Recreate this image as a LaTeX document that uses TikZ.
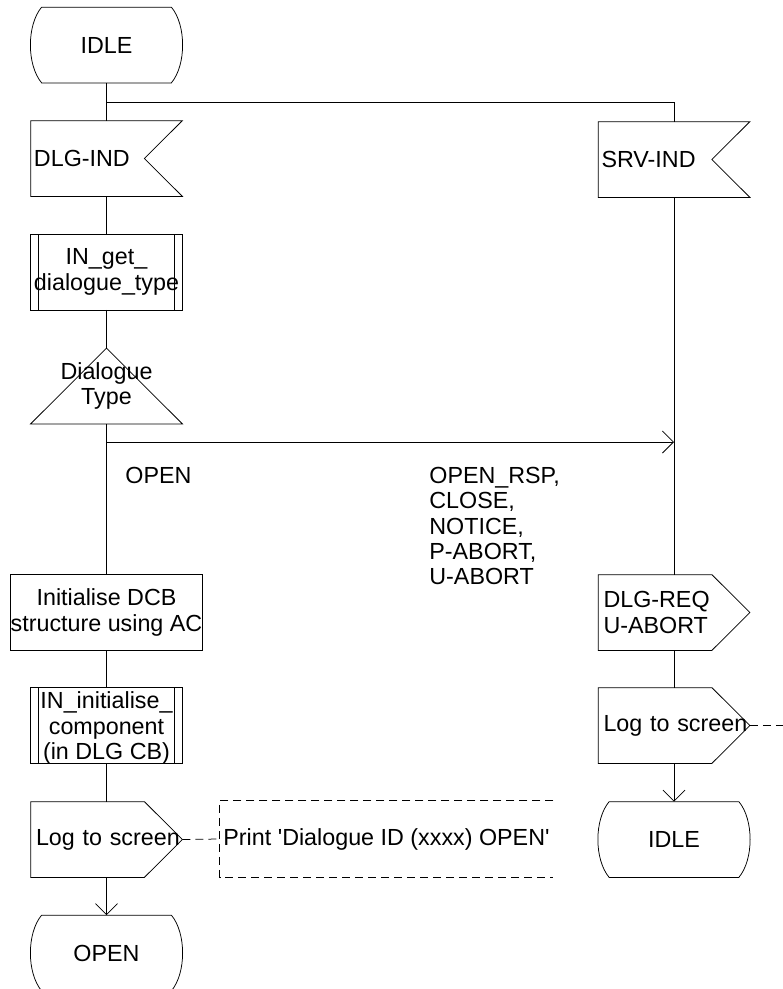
\documentclass[tikz,border=0pt]{standalone}
\usepackage{fontspec}
\setmainfont{Liberation Sans}[Ligatures=TeXOff]
\usetikzlibrary{arrows.meta}
\tikzset{
  sdl/.style={rectangle, minimum width=151pt, minimum height=75pt, inner sep=0pt,
    font=\fontsize{23.3}{25.3}\selectfont, align=center},
  sdlin/.style={sdl, text width=145pt, inner xsep=3pt, align=left},
  sdlout/.style={sdl, text width=141pt, inner xsep=5pt, align=left},
  lbl/.style={inner sep=0pt, font=\fontsize{23.3}{25.3}\selectfont, align=left},
  arr/.style={-{Straight Barb[length=11pt,width=22pt]}},
  cmtline/.style={dash pattern=on 8pt off 5pt},
}
\newcommand{\sdlstate}[1]{%
  \draw ([xshift=11pt]#1.north west) -- ([xshift=-11pt]#1.north east)
    .. controls ([xshift=4pt,yshift=-18pt]#1.north east) and ([xshift=4pt,yshift=18pt]#1.south east) .. ([xshift=-11pt]#1.south east)
    -- ([xshift=11pt]#1.south west)
    .. controls ([xshift=-4pt,yshift=18pt]#1.south west) and ([xshift=-4pt,yshift=-18pt]#1.north west) .. cycle;}
\newcommand{\sdlinput}[1]{%
  \draw (#1.north west) -- (#1.north east) -- ([xshift=-38pt]#1.east) -- (#1.south east) -- (#1.south west) -- cycle;}
\newcommand{\sdloutput}[1]{%
  \draw (#1.north west) -- ([xshift=-38pt]#1.north east) -- (#1.east) -- ([xshift=-38pt]#1.south east) -- (#1.south west) -- cycle;}
\newcommand{\sdlproc}[1]{%
  \draw (#1.north west) rectangle (#1.south east);
  \draw ([xshift=8pt]#1.north west) -- ([xshift=8pt]#1.south west);
  \draw ([xshift=-8pt]#1.north east) -- ([xshift=-8pt]#1.south east);}
\begin{document}
\begin{tikzpicture}[x=1pt,y=-1pt,line width=0.75pt]
\useasboundingbox (0,0) rectangle (783,989);
\clip (0,0) rectangle (783,989);

% left column
\node[sdl] (idle1) at (106.5,45) {IDLE};
\node[sdlin] (dlgind) at (106.5,158.5) {DLG-IND};
\node[sdl] (getdt) at (106.5,272) {IN\_get\_\\dialogue\_type};
\node[sdl] (dec) at (106.5,386) {Dialogue\\Type};
\node[sdl] (init) at (106.5,612.5) {Initialise DCB\\structure using AC};
\node[sdl] (initcomp) at (106.5,728) {IN\_initialise\_\\component\\(in DLG CB)};
\node[sdlout] (log1) at (106.5,839.5) {\mbox{Log to screen}};
\node[sdl] (open) at (106.5,953) {OPEN};
\node[sdl, minimum width=333pt, minimum height=76pt] (cmt) at (386.5,839) {Print 'Dialogue ID (xxxx) OPEN'};

% right column
\node[sdlin] (srvind) at (674,159.5) {SRV-IND};
\node[sdlout] (dlgreq) at (674,612.5) {DLG-REQ\\U-ABORT};
\node[sdlout] (log2) at (674,725.5) {\mbox{Log to screen}};
\node[sdl] (idle2) at (674,839.5) {IDLE};

% labels
\node[lbl, anchor=west] (lopen) at (125,475) {OPEN};
\node[lbl, anchor=north west] (lother) at (429,467) {OPEN\_RSP,\\CLOSE,\\NOTICE,\\P-ABORT,\\U-ABORT};

% shapes
\sdlstate{idle1}
\sdlinput{dlgind}
\sdlproc{getdt}
\draw (dec.north) -- (dec.south east) -- (dec.south west) -- cycle;
\draw (init.north west) rectangle (init.south east);
\draw ([yshift=2.5pt]initcomp.north west) rectangle ([yshift=2.5pt]initcomp.south east);
\draw ([xshift=8pt,yshift=2.5pt]initcomp.north west) -- ([xshift=8pt,yshift=2.5pt]initcomp.south west);
\draw ([xshift=-8pt,yshift=2.5pt]initcomp.north east) -- ([xshift=-8pt,yshift=2.5pt]initcomp.south east);
\sdloutput{log1}
\sdlstate{open}
\draw[cmtline] (cmt.north east) -- (cmt.north west) -- (cmt.south west) -- (cmt.south east);
\sdlinput{srvind}
\sdloutput{dlgreq}
\sdloutput{log2}
\sdlstate{idle2}

% connectors
\coordinate (b1) at (106.5,102);
\coordinate (b2) at (106.5,442);
\coordinate (j2) at (674,442);
\coordinate (edge) at (783,725.5);
\draw (idle1.south) -- (dlgind.north);
\draw (b1) -| (srvind.north);
\draw (dlgind.south) -- (getdt.north);
\draw (getdt.south) -- (dec.north);
\draw (dec.south) -- (init.north);
\draw[arr] (b2) -- (j2);
\draw (init.south) -- ([yshift=2.5pt]initcomp.north);
\draw ([yshift=2.5pt]initcomp.south) -- (log1.north);
\draw[arr] (log1.south) -- (open.north);
\draw[cmtline] (log1.east) -- (cmt.west);
\draw (srvind.south) -- (dlgreq.north);
\draw (dlgreq.south) -- (log2.north);
\draw[arr] (log2.south) -- (idle2.north);
\draw[cmtline] (log2.east) -- (edge);
\end{tikzpicture}
\end{document}
